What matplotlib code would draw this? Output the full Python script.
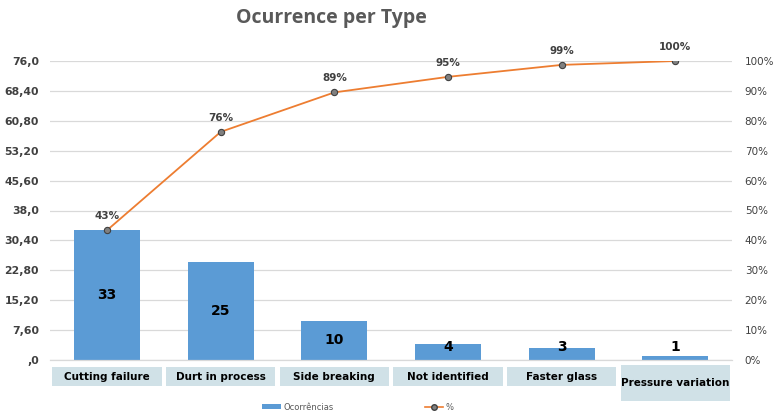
import matplotlib
matplotlib.use("Agg")
import matplotlib.pyplot as plt
from matplotlib.patches import Rectangle
from matplotlib.lines import Line2D
from matplotlib.patches import Patch
import matplotlib.transforms as mtransforms

categories = ["Cutting failure", "Durt in process", "Side breaking",
              "Not identified", "Faster glass", "Pressure variation"]
counts = [33, 25, 10, 4, 3, 1]
cum_pct = [43.4, 76.3, 89.5, 94.7, 98.7, 100.0]
pct_labels = ["43%", "76%", "89%", "95%", "99%", "100%"]
left_ticks = [0, 7.6, 15.2, 22.8, 30.4, 38.0, 45.6, 53.2, 60.8, 68.4, 76.0]
left_tick_labels = [",0", "7,60", "15,20", "22,80", "30,40", "38,0",
                    "45,60", "53,20", "60,80", "68,40", "76,0"]
right_ticks = [0, 10, 20, 30, 40, 50, 60, 70, 80, 90, 100]
right_tick_labels = [f"{t}%" for t in right_ticks]

BAR = "#5B9BD5"
LINE = "#ED7D31"
GRID = "#D9D9D9"
TXT = "#404040"

fig = plt.figure(figsize=(7.75, 4.17), dpi=100)
ax = fig.add_axes([50.2 / 775, 1 - 360 / 417, 682 / 775, 299 / 417])
x = list(range(len(categories)))

ax.bar(x, counts, width=0.58, color=BAR, zorder=2)
ax.set_xlim(-0.5, len(categories) - 0.5)
ax.set_ylim(0, 76)
ax.set_yticks(left_ticks)
ax.set_yticklabels(left_tick_labels, fontsize=7.8, fontweight="bold", color=TXT)
ax.tick_params(axis="y", length=0, pad=8)
ax.set_xticks([])
ax.grid(axis="y", color=GRID, linewidth=0.9, zorder=0)
ax.set_axisbelow(True)
for s in ["top", "right", "left"]:
    ax.spines[s].set_visible(False)
ax.spines["bottom"].set_color(GRID)
ax.spines["bottom"].set_linewidth(0.9)

for xi, v in zip(x, counts):
    ax.text(xi, max(v / 2, 3.3), str(v), ha="center", va="center",
            fontsize=10, fontweight="bold", color="black", zorder=5)

ax2 = ax.twinx()
ax2.set_ylim(0, 100)
ax2.plot(x, cum_pct, color=LINE, linewidth=1.3, marker="o", markersize=4.5,
         markerfacecolor="#808080", markeredgecolor="#404040",
         markeredgewidth=0.8, zorder=4)
ax2.set_yticks(right_ticks)
ax2.set_yticklabels(right_tick_labels, fontsize=7.5, color=TXT)
ax2.tick_params(axis="y", length=0, pad=9)
for s in ["top", "right", "left", "bottom"]:
    ax2.spines[s].set_visible(False)
for xi, v, lab in zip(x, cum_pct, pct_labels):
    ax2.annotate(lab, (xi, v), xytext=(0, 6.5), textcoords="offset points",
                 ha="center", va="bottom", fontsize=7.5, fontweight="bold",
                 color=TXT)

# category label boxes below the axis
trans = mtransforms.blended_transform_factory(ax.transData, fig.transFigure)
for xi, lab in zip(x, categories):
    if xi == len(categories) - 1:
        y0, h = 1 - 401 / 417, 36 / 417
    else:
        y0, h = 1 - 386 / 417, 19 / 417
    rect = Rectangle((xi - 0.48, y0), 0.96, h, transform=trans,
                     facecolor="#D0E1E7", edgecolor="none", clip_on=False,
                     zorder=5)
    fig.add_artist(rect)
    fig.text(xi, y0 + h / 2, lab, transform=trans, ha="center", va="center",
             fontsize=7.5, fontweight="bold", color="black", zorder=6)

fig.text(331 / 775, 1 - 18 / 417, "Ocurrence per Type", ha="center",
         va="center", fontsize=14, fontweight="bold", color="#595959",
         family=["Open Sans", "DejaVu Sans"])

handles = [Patch(facecolor=BAR, edgecolor="none"),
           Line2D([0], [0], color=LINE, linewidth=1.2, marker="o",
                  markersize=4, markerfacecolor="#808080",
                  markeredgecolor="#404040")]
fig.legend(handles, ["Ocorrências", "%"], loc="center",
           bbox_to_anchor=(358 / 775, 1 - 407 / 417), ncol=2, frameon=False,
           fontsize=6, labelcolor="#595959", columnspacing=11,
           handlelength=2.2, handletextpad=0.3, handleheight=0.4)

fig.savefig("out.png", dpi=100)
